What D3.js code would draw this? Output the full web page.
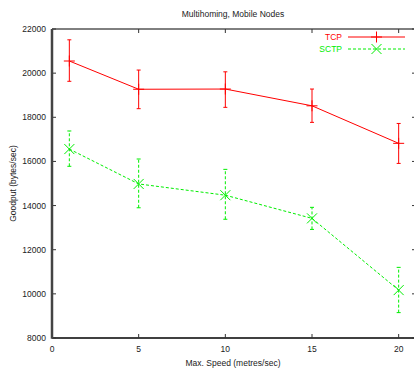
<!DOCTYPE html>
<html>
<head>
<meta charset="utf-8">
<script src="https://cdn.jsdelivr.net/npm/d3@7"></script>
<style>
  body { margin: 0; background: #fff; }
  svg { display: block; font-family: "Liberation Sans", Arial, sans-serif; }
</style>
</head>
<body>
<svg class="chart"></svg>
<script>
// data
var speeds = [1, 5, 10, 15, 20];
var tcpMean = [20550, 19270, 19280, 18520, 16820];
var tcpLow  = [19630, 18390, 18450, 17770, 15910];
var tcpHigh = [21510, 20140, 20060, 19280, 17720];
var sctpMean = [16560, 14980, 14470, 13420, 10170];
var sctpLow  = [15780, 13900, 13380, 12920, 9150];
var sctpHigh = [17380, 16110, 15640, 13920, 11200];
var xTicks = [0, 5, 10, 15, 20];
var yTicks = [8000, 10000, 12000, 14000, 16000, 18000, 20000, 22000];

var W = 414, H = 370;
var margin = {top: 29, left: 52, right: -2, bottom: 32};

var svg = d3.select(".chart").attr("width", W).attr("height", H);

var x = d3.scaleLinear().domain([0, 21]).range([margin.left, W - margin.right]);
var y = d3.scaleLinear().domain([8000, 22000]).range([H - margin.bottom, margin.top]);

// frame
svg.append("line").attr("x1", x(0)).attr("x2", x(21)).attr("y1", y(22000)).attr("y2", y(22000))
    .attr("stroke", "#000").attr("stroke-width", 1);
svg.append("line").attr("x1", x(0)).attr("x2", x(21)).attr("y1", y(8000)).attr("y2", y(8000))
    .attr("stroke", "#000").attr("stroke-width", 1.5);

// ticks on all sides
var tl = 4;
yTicks.forEach(function(v) {
    svg.append("line").attr("x1", x(0)).attr("x2", x(0) + tl).attr("y1", y(v)).attr("y2", y(v))
        .attr("stroke", "#333");
    svg.append("line").attr("x1", x(21)).attr("x2", x(21) - tl).attr("y1", y(v)).attr("y2", y(v))
        .attr("stroke", "#333");
    svg.append("text").attr("x", x(0) - 6).attr("y", y(v) + 3).attr("text-anchor", "end")
        .attr("font-size", "8.5px").attr("fill", "#222").text(v);
});
xTicks.forEach(function(v) {
    svg.append("line").attr("x1", x(v)).attr("x2", x(v)).attr("y1", y(8000)).attr("y2", y(8000) - tl)
        .attr("stroke", "#333");
    svg.append("line").attr("x1", x(v)).attr("x2", x(v)).attr("y1", y(22000)).attr("y2", y(22000) + tl)
        .attr("stroke", "#333");
    svg.append("text").attr("x", x(v)).attr("y", y(8000) + 14).attr("text-anchor", "middle")
        .attr("font-size", "8.5px").attr("fill", "#222").text(v);
});

// thick left axis
svg.append("line").attr("x1", x(0)).attr("x2", x(0)).attr("y1", y(22000)).attr("y2", y(8000) + 0.75)
    .attr("stroke", "#444").attr("stroke-width", 2.5);

// titles
svg.append("text").attr("x", 233).attr("y", 17).attr("text-anchor", "middle")
    .attr("font-size", "8.5px").attr("fill", "#222").text("Multihoming, Mobile Nodes");
svg.append("text").attr("x", 233).attr("y", 366).attr("text-anchor", "middle")
    .attr("font-size", "8.5px").attr("fill", "#222").text("Max. Speed (metres/sec)");
svg.append("text").attr("transform", "translate(16," + y(15000) + ") rotate(-90)")
    .attr("text-anchor", "middle").attr("font-size", "8.5px").attr("fill", "#222")
    .text("Goodput (bytes/sec)");

var line = d3.line().x(function(d) { return x(d[0]); }).y(function(d) { return y(d[1]); });

function plus(g, cx, cy, color) {
    g.append("line").attr("x1", cx - 5.5).attr("x2", cx + 5.5).attr("y1", cy).attr("y2", cy).attr("stroke", color);
    g.append("line").attr("x1", cx).attr("x2", cx).attr("y1", cy - 5.5).attr("y2", cy + 5.5).attr("stroke", color);
}
function cross(g, cx, cy, color) {
    g.append("line").attr("x1", cx - 5).attr("x2", cx + 5).attr("y1", cy - 5).attr("y2", cy + 5).attr("stroke", color);
    g.append("line").attr("x1", cx - 5).attr("x2", cx + 5).attr("y1", cy + 5).attr("y2", cy - 5).attr("stroke", color);
}

function series(mean, low, high, color, dash, marker) {
    var g = svg.append("g");
    g.append("path").datum(speeds.map(function(s, i) { return [s, mean[i]]; }))
        .attr("d", line).attr("fill", "none").attr("stroke", color).attr("stroke-width", 1)
        .attr("stroke-dasharray", dash);
    speeds.forEach(function(s, i) {
        g.append("line").attr("x1", x(s)).attr("x2", x(s)).attr("y1", y(low[i])).attr("y2", y(high[i]))
            .attr("stroke", color).attr("stroke-dasharray", dash);
        [low[i], high[i]].forEach(function(v) {
            g.append("line").attr("x1", x(s) - 2).attr("x2", x(s) + 2).attr("y1", y(v)).attr("y2", y(v))
                .attr("stroke", color);
        });
        marker(g, x(s), y(mean[i]), color);
    });
}

series(tcpMean, tcpLow, tcpHigh, "#ff0000", null, plus);
series(sctpMean, sctpLow, sctpHigh, "#00ee00", "3,2", cross);

// legend
var lg = svg.append("g");
lg.append("text").attr("x", 342).attr("y", 40).attr("text-anchor", "end").attr("font-size", "8.5px")
    .attr("fill", "#ff0000").text("TCP");
lg.append("line").attr("x1", 348).attr("x2", 405).attr("y1", 37).attr("y2", 37).attr("stroke", "#ff0000");
plus(lg, 376.5, 37, "#ff0000");
lg.append("text").attr("x", 342).attr("y", 52).attr("text-anchor", "end").attr("font-size", "8.5px")
    .attr("fill", "#00ee00").text("SCTP");
lg.append("line").attr("x1", 348).attr("x2", 405).attr("y1", 49).attr("y2", 49).attr("stroke", "#00ee00")
    .attr("stroke-dasharray", "3,2");
cross(lg, 376.5, 49, "#00ee00");
</script>
</body>
</html>
